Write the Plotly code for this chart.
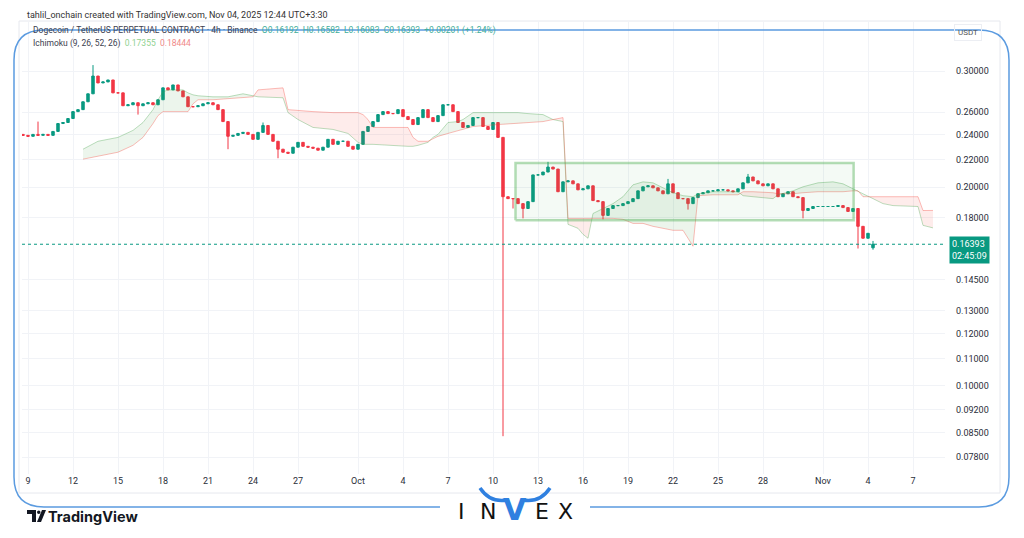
import numpy as np
import pandas as pd
import plotly.graph_objects as go

# ---------------- data ----------------
candle_start = "2025-09-08 16:00"
candle_freq = "8h"
closes = [
    0.2397, 0.2389, 0.2405, 0.2397, 0.2405, 0.2397, 0.2430, 0.2498, 0.2507, 0.2542,
    0.2604, 0.2622, 0.2695, 0.2771, 0.2948, 0.2878, 0.2888, 0.2908, 0.2780, 0.2780,
    0.2658, 0.2667, 0.2686, 0.2658, 0.2676, 0.2686, 0.2667, 0.2714, 0.2829, 0.2809,
    0.2858, 0.2799, 0.2742, 0.2649, 0.2649, 0.2658, 0.2676, 0.2686, 0.2667, 0.2622,
    0.2515, 0.2389, 0.2397, 0.2413, 0.2422, 0.2405, 0.2364, 0.2422, 0.2481, 0.2405,
    0.2348, 0.2284, 0.2260, 0.2252, 0.2300, 0.2339, 0.2307, 0.2300, 0.2292, 0.2276,
    0.2300, 0.2364, 0.2323, 0.2348, 0.2348, 0.2307, 0.2284, 0.2323, 0.2430, 0.2472,
    0.2515, 0.2577, 0.2604, 0.2586, 0.2586, 0.2622, 0.2559, 0.2533, 0.2489, 0.2550,
    0.2622, 0.2550, 0.2515, 0.2568, 0.2667, 0.2667, 0.2604, 0.2507, 0.2464, 0.2481,
    0.2550, 0.2550, 0.2472, 0.2447, 0.2507, 0.2380, 0.1935, 0.1922, 0.1922, 0.1889,
    0.1857, 0.1902, 0.2088, 0.2088, 0.2109, 0.2146, 0.2131, 0.1969, 0.2038, 0.2045,
    0.2024, 0.1982, 0.1989, 0.2010, 0.1909, 0.1902, 0.1813, 0.1857, 0.1876, 0.1876,
    0.1889, 0.1902, 0.1922, 0.1975, 0.2003, 0.2010, 0.1996, 0.1975, 0.1955, 0.2024,
    0.1962, 0.1922, 0.1922, 0.1889, 0.1929, 0.1955, 0.1962, 0.1975, 0.1975, 0.1982,
    0.1982, 0.1975, 0.1969, 0.1989, 0.2031, 0.2073, 0.2045, 0.2024, 0.2010, 0.2024,
    0.1989, 0.1935, 0.1955, 0.1969, 0.1935, 0.1929, 0.1844, 0.1857, 0.1870, 0.1870,
    0.1870, 0.1870, 0.1870, 0.1876, 0.1863, 0.1838, 0.1857, 0.1745, 0.1674, 0.1703,
    0.16393,
]
first_open = 0.2405
last_open = 0.16192
wick_high = {3: 0.2515, 14: 0.3063, 48: 0.2507, 105: 0.2185, 129: 0.2059,
             145: 0.2095, 170: 0.16582}
wick_low = {23: 0.2577, 41: 0.2284, 51: 0.2213, 96: 0.0839, 98: 0.1857,
            100: 0.1794, 116: 0.1788, 133: 0.1850, 156: 0.1794, 167: 0.1615,
            170: 0.16083}

# Ichimoku cloud (leading spans), key points
cloud_times = [
    "2025-09-12 16:00", "2025-09-13 16:00", "2025-09-15 00:00", "2025-09-16 00:00",
    "2025-09-16 16:00", "2025-09-17 08:00", "2025-09-17 16:00", "2025-09-18 00:00",
    "2025-09-18 08:00", "2025-09-19 08:00", "2025-09-19 16:00", "2025-09-20 00:00",
    "2025-09-20 08:00", "2025-09-21 08:00", "2025-09-22 08:00", "2025-09-23 08:00",
    "2025-09-24 00:00", "2025-09-24 08:00", "2025-09-26 00:00", "2025-09-26 08:00",
    "2025-09-27 00:00", "2025-09-28 00:00", "2025-09-29 08:00", "2025-09-30 08:00",
    "2025-10-01 00:00", "2025-10-01 08:00", "2025-10-01 16:00", "2025-10-02 00:00",
    "2025-10-04 08:00", "2025-10-04 16:00", "2025-10-05 00:00", "2025-10-05 16:00",
    "2025-10-06 00:00", "2025-10-06 08:00", "2025-10-07 00:00", "2025-10-07 16:00",
    "2025-10-08 00:00", "2025-10-08 16:00", "2025-10-10 08:00", "2025-10-11 16:00",
    "2025-10-12 08:00", "2025-10-13 08:00", "2025-10-14 00:00", "2025-10-14 16:00",
    "2025-10-15 00:00", "2025-10-15 16:00", "2025-10-16 00:00", "2025-10-16 08:00",
    "2025-10-16 16:00", "2025-10-17 08:00", "2025-10-18 00:00", "2025-10-18 16:00",
    "2025-10-19 00:00", "2025-10-19 08:00", "2025-10-20 00:00", "2025-10-20 16:00",
    "2025-10-21 08:00", "2025-10-22 00:00", "2025-10-22 16:00", "2025-10-23 08:00",
    "2025-10-23 16:00", "2025-10-24 16:00", "2025-10-26 08:00", "2025-10-26 16:00",
    "2025-10-27 08:00", "2025-10-28 16:00", "2025-10-29 00:00", "2025-10-30 00:00",
    "2025-10-30 16:00", "2025-10-31 16:00", "2025-11-01 16:00", "2025-11-02 08:00",
    "2025-11-03 00:00", "2025-11-03 08:00", "2025-11-03 16:00", "2025-11-04 08:00",
    "2025-11-05 00:00", "2025-11-05 16:00", "2025-11-07 08:00", "2025-11-07 16:00",
    "2025-11-08 08:00",
]
span_a = [
    0.2284, 0.2348, 0.2380, 0.2439, 0.2507, 0.2622, 0.2714, 0.2790, 0.2809, 0.2809,
    0.2780, 0.2761, 0.2752, 0.2742, 0.2742, 0.2771, 0.2752, 0.2742, 0.2733, 0.2595,
    0.2533, 0.2464, 0.2447, 0.2413, 0.2339, 0.2323, 0.2323, 0.2323, 0.2307, 0.2307,
    0.2315, 0.2339, 0.2380, 0.2405, 0.2507, 0.2515, 0.2533, 0.2595, 0.2595, 0.2595,
    0.2586, 0.2577, 0.2533, 0.2515, 0.1757, 0.1733, 0.1697, 0.1674, 0.1825, 0.1857,
    0.1889, 0.1935, 0.1975, 0.2017, 0.2038, 0.2031, 0.1996, 0.1962, 0.1942, 0.1935,
    0.1955, 0.1969, 0.1969, 0.1942, 0.1935, 0.1922, 0.1948, 0.1975, 0.2003, 0.2031,
    0.2038, 0.2024, 0.1989, 0.1969, 0.1955, 0.1922, 0.1889, 0.1876, 0.1870, 0.1751,
    0.17355,
]
span_b = [
    0.2206, 0.2229, 0.2260, 0.2315, 0.2380, 0.2498, 0.2568, 0.2604, 0.2604, 0.2604,
    0.2604, 0.2676, 0.2714, 0.2714, 0.2723, 0.2733, 0.2742, 0.2809, 0.2829, 0.2622,
    0.2613, 0.2604, 0.2595, 0.2595, 0.2595, 0.2577, 0.2533, 0.2464, 0.2464, 0.2380,
    0.2348, 0.2348, 0.2372, 0.2389, 0.2413, 0.2439, 0.2447, 0.2472, 0.2489, 0.2498,
    0.2507, 0.2515, 0.2533, 0.2550, 0.1794, 0.1794, 0.1794, 0.1794, 0.1794, 0.1794,
    0.1794, 0.1788, 0.1776, 0.1763, 0.1763, 0.1745, 0.1733, 0.1721, 0.1721, 0.1628,
    0.1942, 0.1948, 0.1948, 0.1969, 0.1969, 0.1962, 0.1955, 0.1955, 0.1962, 0.1969,
    0.1969, 0.1969, 0.1975, 0.1975, 0.1935, 0.1935, 0.1935, 0.1935, 0.1935, 0.1844,
    0.18444,
]

# consolidation box drawn on the chart
box_time = ["2025-10-11 12:00", "2025-11-03 01:00"]
box_price = [0.1783, 0.2176]

last_price = 0.16393

x_tick_vals = ["2025-09-09", "2025-09-12", "2025-09-15", "2025-09-18", "2025-09-21",
               "2025-09-24", "2025-09-27", "2025-10-01", "2025-10-04", "2025-10-07",
               "2025-10-10", "2025-10-13", "2025-10-16", "2025-10-19", "2025-10-22",
               "2025-10-25", "2025-10-28", "2025-11-01", "2025-11-04", "2025-11-07"]
x_tick_text = ["9", "12", "15", "18", "21", "24", "27", "Oct", "4", "7", "10", "13",
               "16", "19", "22", "25", "28", "Nov", "4", "7"]
y_tick_vals = [0.078, 0.085, 0.092, 0.10, 0.11, 0.12, 0.13, 0.145, 0.18, 0.20, 0.22,
               0.24, 0.26, 0.30]
y_tick_text = ["0.07800", "0.08500", "0.09200", "0.10000", "0.11000", "0.12000",
               "0.13000", "0.14500", "0.18000", "0.20000", "0.22000", "0.24000",
               "0.26000", "0.30000"]

x_range = ["2025-09-08 14:24", "2025-11-09 03:12"]
y_range_vals = [0.07353, 0.3560]

# ---------------- build ----------------
UP = "#089981"
DOWN = "#F23645"
FONT = "Roboto"

n = len(closes)
times = pd.date_range(candle_start, periods=n, freq=candle_freq)
opens = [first_open] + closes[:-1]
opens[-1] = last_open
highs = [wick_high.get(i, max(opens[i], closes[i])) for i in range(n)]
lows = [wick_low.get(i, min(opens[i], closes[i])) for i in range(n)]

fig = go.Figure()

# cloud fills split where the spans cross
ct = pd.to_datetime(cloud_times).astype("int64").to_numpy().astype(float)
la = np.log(np.array(span_a))
lb = np.log(np.array(span_b))
d = la - lb
runs = []
cur_sign = d[0] >= 0
cur = [[ct[0]], [la[0]], [lb[0]]]
for i in range(1, len(ct)):
    s = d[i] >= 0
    if s != cur_sign:
        f = d[i - 1] / (d[i - 1] - d[i])
        tc = ct[i - 1] + f * (ct[i] - ct[i - 1])
        vc = la[i - 1] + f * (la[i] - la[i - 1])
        cur[0].append(tc); cur[1].append(vc); cur[2].append(vc)
        runs.append((cur_sign, cur))
        cur = [[tc], [vc], [vc]]
        cur_sign = s
    cur[0].append(ct[i]); cur[1].append(la[i]); cur[2].append(lb[i])
runs.append((cur_sign, cur))

for sign, (tt, aa, bb) in runs:
    xs = pd.to_datetime(np.array(tt + tt[::-1]).astype("int64"))
    ys = np.exp(np.array(aa + bb[::-1]))
    fig.add_trace(go.Scatter(
        x=xs, y=ys, mode="lines", fill="toself", line=dict(width=0),
        fillcolor="rgba(67,160,71,0.10)" if sign else "rgba(244,67,54,0.10)",
        hoverinfo="skip", showlegend=False))

fig.add_trace(go.Scatter(x=pd.to_datetime(cloud_times), y=span_a, mode="lines",
                         line=dict(color="rgba(67,160,71,0.35)", width=1),
                         hoverinfo="skip", showlegend=False))
fig.add_trace(go.Scatter(x=pd.to_datetime(cloud_times), y=span_b, mode="lines",
                         line=dict(color="rgba(244,67,54,0.35)", width=1),
                         hoverinfo="skip", showlegend=False))

# consolidation box
bx = pd.to_datetime([box_time[0], box_time[1], box_time[1], box_time[0], box_time[0]])
by = [box_price[0], box_price[0], box_price[1], box_price[1], box_price[0]]
fig.add_trace(go.Scatter(x=bx, y=by, mode="lines", fill="toself",
                         fillcolor="rgba(76,175,80,0.06)",
                         line=dict(color="rgba(76,175,80,0.42)", width=2.5),
                         hoverinfo="skip", showlegend=False))

# last price dotted line
fig.add_trace(go.Scatter(x=pd.to_datetime(x_range), y=[last_price, last_price],
                         mode="lines", line=dict(color=UP, width=1, dash="dot"),
                         hoverinfo="skip", showlegend=False))

fig.add_trace(go.Candlestick(
    x=times, open=opens, high=highs, low=lows, close=closes,
    increasing=dict(line=dict(color=UP, width=1), fillcolor=UP),
    decreasing=dict(line=dict(color=DOWN, width=1), fillcolor=DOWN),
    whiskerwidth=0, showlegend=False, hoverinfo="skip"))

# ---------------- layout ----------------
# page has an 8px body margin; positions below are in screenshot pixels
OFF = 8
W, H = 1024 - OFF, 538 - OFF
PL, PR, PT, PB = 22, 945, 22, 474


def px(x):
    return (x - PL) / (PR - PL)


def py(y):
    return (PB - y) / (PB - PT)


def P(x, y):
    return f"{px(x):.5f},{py(y):.5f}"


shapes = []
# TradingView panel border
shapes.append(dict(type="rect", xref="paper", yref="paper", x0=px(19), x1=px(1000),
                   y0=py(493), y1=py(21), line=dict(color="#e6e8ee", width=1),
                   layer="below"))
# blue decorative frame
frame = (f"M {P(440,507)} L {P(44,507)} Q {P(14,507)} {P(14,477)} L {P(14,60)} "
         f"Q {P(14,30)} {P(44,30)} L {P(979,30)} Q {P(1009,30)} {P(1009,60)} "
         f"L {P(1009,477)} Q {P(1009,507)} {P(979,507)} L {P(590,507)}")
shapes.append(dict(type="path", xref="paper", yref="paper", path=frame,
                   line=dict(color="#5b9be0", width=1.5)))
# INVEX horns
shapes.append(dict(type="path", xref="paper", yref="paper",
                   path=f"M {P(480,488)} Q {P(490,503)} {P(507,500)}",
                   line=dict(color="#2f80e0", width=3.5)))
shapes.append(dict(type="path", xref="paper", yref="paper",
                   path=f"M {P(550,488)} Q {P(540,503)} {P(523,500)}",
                   line=dict(color="#2f80e0", width=3.5)))
# TradingView logo
shapes.append(dict(type="path", xref="paper", yref="paper",
                   path=f"M {P(27,510)} L {P(36,510)} L {P(36,522)} L {P(32,522)} "
                        f"L {P(32,514)} L {P(27,514)} Z",
                   fillcolor="#131722", line=dict(width=0)))
shapes.append(dict(type="circle", xref="paper", yref="paper", x0=px(37), x1=px(40.5),
                   y0=py(514), y1=py(510.5), fillcolor="#131722", line=dict(width=0)))
shapes.append(dict(type="path", xref="paper", yref="paper",
                   path=f"M {P(42,510)} L {P(46,510)} L {P(41,522)} L {P(37,522)} Z",
                   fillcolor="#131722", line=dict(width=0)))

ann = []
ann.append(dict(x=px(25), y=py(OFF), xref="paper", yref="paper", xanchor="left",
                yanchor="top", showarrow=False,
                text="tahlil_onchain created with TradingView.com, Nov 04, 2025 12:44 UTC+3:30",
                font=dict(size=9, color="#333", family=FONT)))
ann.append(dict(x=px(31), y=py(30), xref="paper", yref="paper", xanchor="left",
                yanchor="middle", showarrow=False,
                text=("Dogecoin / TetherUS PERPETUAL CONTRACT · 4h · Binance  "
                      "<span style='color:#3fae9a'>O0.16192  H0.16582  L0.16083  "
                      "C0.16393  +0.00201 (+1.24%)</span>"),
                font=dict(size=8.5, color="#3d4150", family=FONT)))
ann.append(dict(x=px(31), y=py(43), xref="paper", yref="paper", xanchor="left",
                yanchor="middle", showarrow=False,
                text=("Ichimoku (9, 26, 52, 26)  <span style='color:#8fd18f'>0.17355</span>"
                      "  <span style='color:#f08a8a'>0.18444</span>"),
                font=dict(size=8.5, color="#3d4150", family=FONT)))
ann.append(dict(x=px(968), y=py(33), xref="paper", yref="paper", xanchor="center",
                yanchor="middle", showarrow=False, text="USDT",
                bordercolor="#eceef3", borderwidth=1, borderpad=3,
                font=dict(size=8, color="#555", family=FONT)))
ann.append(dict(x=px(949), y=py(250), xref="paper", yref="paper", xanchor="left",
                yanchor="middle", showarrow=False, align="left",
                text="0.16393<br>02:45:09", bgcolor=UP, borderpad=2,
                font=dict(size=9, color="white", family=FONT)))
ann.append(dict(x=px(46), y=py(516), xref="paper", yref="paper", xanchor="left",
                yanchor="middle", showarrow=False, text="<b>TradingView</b>",
                font=dict(size=14.5, color="#131722", family="Inter")))
for letter, lx, col, sz in [("I", 461, "#111", 22), ("N", 488, "#111", 22),
                            ("V", 515, "#2f80e0", 30), ("E", 542, "#111", 22),
                            ("X", 565, "#111", 22)]:
    ann.append(dict(x=px(lx), y=py(511 if letter != "V" else 509), xref="paper",
                    yref="paper", xanchor="center", yanchor="middle", showarrow=False,
                    text=f"<b>{letter}</b>" if letter == "V" else letter,
                    font=dict(size=sz, color=col, family="DejaVu Sans")))

fig.update_layout(
    width=W, height=H,
    margin=dict(l=PL - OFF, r=W - (PR - OFF), t=PT - OFF, b=H - (PB - OFF)),
    paper_bgcolor="white", plot_bgcolor="white",
    showlegend=False,
    shapes=shapes, annotations=ann,
    xaxis=dict(type="date", range=x_range, tickvals=x_tick_vals, ticktext=x_tick_text,
               showgrid=True, gridcolor="#f1f3f7", gridwidth=1, zeroline=False,
               showline=False, ticks="", rangeslider=dict(visible=False),
               tickfont=dict(size=9, color="#2a2e39", family=FONT)),
    yaxis=dict(type="log", side="right",
               range=[np.log10(y_range_vals[0]), np.log10(y_range_vals[1])],
               tickvals=y_tick_vals, ticktext=y_tick_text, showgrid=True,
               gridcolor="#f1f3f7", gridwidth=1, zeroline=False, showline=False,
               ticks="", ticklabelstandoff=10,
               tickfont=dict(size=9, color="#2a2e39", family=FONT)),
)

fig.write_html("out.html")
